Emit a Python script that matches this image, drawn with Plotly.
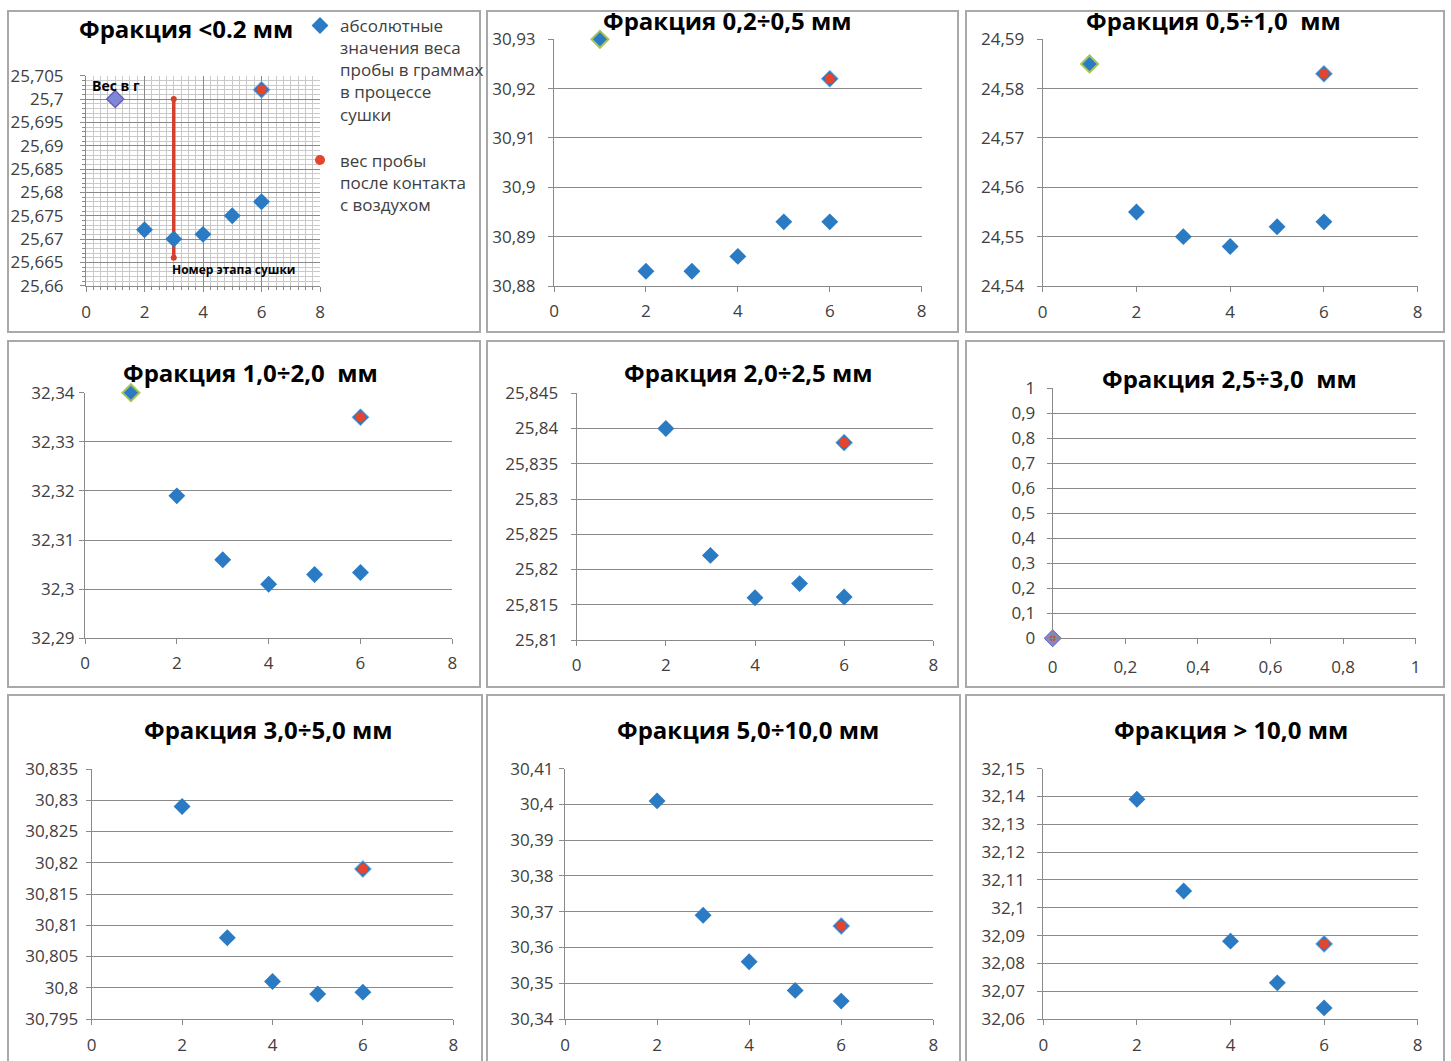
import plotly.graph_objects as go

W, H = 1451, 1061

# ---------------- data ----------------
titles = ["Фракция <0.2 мм", "Фракция 0,2÷0,5 мм", "Фракция 0,5÷1,0  мм",
          "Фракция 1,0÷2,0  мм", "Фракция 2,0÷2,5 мм", "Фракция 2,5÷3,0  мм",
          "Фракция 3,0÷5,0 мм", "Фракция 5,0÷10,0 мм", "Фракция > 10,0 мм"]

stage_first = [1]
stages_drying = [2, 3, 4, 5, 6]
stage_air = [6]

# initial weight (stage 1), drying stages 2..6, weight after contact with air
p1_initial = [25.700]
p1_drying = [25.672, 25.670, 25.671, 25.675, 25.678]
p1_air = [25.702]
p1_line_x = [3, 3]
p1_line_y = [25.700, 25.666]

p2_initial = [30.930]
p2_drying = [30.883, 30.883, 30.886, 30.893, 30.893]
p2_air = [30.922]

p3_initial = [24.585]
p3_drying = [24.555, 24.550, 24.548, 24.552, 24.553]
p3_air = [24.583]

p4_initial = [32.340]
p4_drying = [32.319, 32.306, 32.301, 32.303, 32.3034]
p4_air = [32.335]

p5_drying = [25.840, 25.822, 25.816, 25.818, 25.8161]
p5_air = [25.838]

p6_x = [0]
p6_y = [0]
p6_air = [0]

p7_drying = [30.829, 30.808, 30.801, 30.799, 30.7993]
p7_air = [30.819]

p8_drying = [30.401, 30.369, 30.356, 30.348, 30.345]
p8_air = [30.366]

p9_drying = [32.139, 32.106, 32.088, 32.073, 32.064]
p9_air = [32.087]

# axis tick values
y_ticks = [
    [25.66, 25.665, 25.67, 25.675, 25.68, 25.685, 25.69, 25.695, 25.7, 25.705],
    [30.88, 30.89, 30.9, 30.91, 30.92, 30.93],
    [24.54, 24.55, 24.56, 24.57, 24.58, 24.59],
    [32.29, 32.3, 32.31, 32.32, 32.33, 32.34],
    [25.81, 25.815, 25.82, 25.825, 25.83, 25.835, 25.84, 25.845],
    [0, 0.1, 0.2, 0.3, 0.4, 0.5, 0.6, 0.7, 0.8, 0.9, 1],
    [30.795, 30.8, 30.805, 30.81, 30.815, 30.82, 30.825, 30.83, 30.835],
    [30.34, 30.35, 30.36, 30.37, 30.38, 30.39, 30.4, 30.41],
    [32.06, 32.07, 32.08, 32.09, 32.1, 32.11, 32.12, 32.13, 32.14, 32.15],
]
x_ticks_stage = [0, 2, 4, 6, 8]
x_ticks_unit = [0, 0.2, 0.4, 0.6, 0.8, 1]

legend_dry = "абсолютные<br>значения веса<br>пробы в граммах<br>в процессе<br>сушки"
legend_air = "вес пробы<br>после контакта<br>с воздухом"
label_weight = "Вес в г"
label_stage = "Номер этапа сушки"

# ---------------- styling / geometry ----------------
BLUE = "#2b7bc4"
RED = "#e5452c"
GREEN_EDGE = "#a6c35a"
PURPLE = "#8087d6"
PURPLE_EDGE = "#6a5fb8"
GRID = "#8a8a8a"
AXIS = "#8a8a8a"
TXT = "#404040"
FONT = "Open Sans"

# plot area pixel geometry: x_left, x_right, y_top, y_bottom
geom = [
    (86, 320, 75.7, 285.7),
    (554, 921.7, 39.3, 286),
    (1042.7, 1417.7, 39.3, 286),
    (85, 452.3, 392.7, 638.3),
    (576.7, 933.3, 393.3, 640),
    (1052.7, 1415.7, 388.3, 638.3),
    (91.7, 453.3, 769, 1019),
    (565, 933.3, 768.7, 1019),
    (1043.3, 1417.7, 768.7, 1019),
]
y_gap = [21, 17, 17, 9, 17, 16, 12, 10, 17]
x_standoff = [6, 5, 6, 4, 5, 8, 6, 6, 6]
title_pos = [(186, 28), (727, 20), (1213, 20), (250, 372), (748, 372),
             (1229, 378), (268, 729), (748, 729), (1231, 729)]
borders = [
    (8, 480, 11, 332), (487, 958, 11, 332), (966, 1444, 11, 332),
    (8, 480, 341, 687), (487, 958, 341, 687), (966, 1444, 341, 687),
    (8, 482, 695, 1070), (487, 960, 695, 1070), (966, 1444, 695, 1070),
]


def fmt(v):
    return f"{v:g}".replace(".", ",")


fig = go.Figure()
layout = dict()

for i in range(9):
    sfx = "" if i == 0 else str(i + 1)
    xl, xr, yt, yb = geom[i]
    yt_vals = y_ticks[i]
    xt_vals = x_ticks_unit if i == 5 else x_ticks_stage
    xaxis = dict(
        domain=[xl / W, xr / W],
        range=[xt_vals[0], xt_vals[-1]],
        tickvals=xt_vals, ticktext=[fmt(v) for v in xt_vals],
        showline=True, linecolor=AXIS, linewidth=1,
        ticks="outside", ticklen=5, tickcolor=AXIS,
        showgrid=(i == 0), gridcolor=GRID, gridwidth=1,
        zeroline=False, fixedrange=True, automargin=False,
        tickfont=dict(family=FONT, size=17, color=TXT),
        ticklabelstandoff=x_standoff[i],
        anchor="y" + sfx,
    )
    yaxis = dict(
        domain=[1 - yb / H, 1 - yt / H],
        range=[yt_vals[0], yt_vals[-1]],
        tickvals=yt_vals, ticktext=[fmt(v) for v in yt_vals],
        showline=True, linecolor=AXIS, linewidth=1,
        ticks="outside", ticklen=5, tickcolor=AXIS,
        showgrid=True, gridcolor=GRID, gridwidth=1,
        zeroline=False, fixedrange=True, automargin=False,
        tickfont=dict(family=FONT, size=17, color=TXT),
        ticklabelstandoff=max(0, y_gap[i] - 8),
        anchor="x" + sfx,
    )
    if i == 0:
        xaxis["minor"] = dict(dtick=0.25, tick0=0, showgrid=True, gridcolor="#c9c9c9",
                              ticks="outside", ticklen=3, tickcolor=AXIS)
        yaxis["minor"] = dict(dtick=0.001, tick0=25.66, showgrid=True, gridcolor="#c9c9c9",
                              ticks="outside", ticklen=3, tickcolor=AXIS)
    layout["xaxis" + sfx] = xaxis
    layout["yaxis" + sfx] = yaxis

panels = [
    (p1_initial, p1_drying, p1_air),
    (p2_initial, p2_drying, p2_air),
    (p3_initial, p3_drying, p3_air),
    (p4_initial, p4_drying, p4_air),
    (None, p5_drying, p5_air),
    None,
    (None, p7_drying, p7_air),
    (None, p8_drying, p8_air),
    (None, p9_drying, p9_air),
]

DIAMOND = 13

for i, pdata in enumerate(panels):
    sfx = "" if i == 0 else str(i + 1)
    xa, ya = "x" + sfx, "y" + sfx
    if i == 0:
        # red vertical marker line
        fig.add_trace(go.Scatter(x=p1_line_x, y=p1_line_y, mode="lines+markers",
                                 line=dict(color="#d4402b", width=3.5),
                                 marker=dict(symbol="circle", size=6, color="#d4402b"),
                                 showlegend=False, xaxis=xa, yaxis=ya, hoverinfo="skip",
                                 cliponaxis=False))
    if pdata is None:
        # panel 6: single point at origin
        fig.add_trace(go.Scatter(x=p6_x, y=p6_y, mode="markers",
                                 marker=dict(symbol="diamond", size=DIAMOND, color=PURPLE,
                                             line=dict(color=PURPLE_EDGE, width=1)),
                                 showlegend=False, xaxis=xa, yaxis=ya, cliponaxis=False))
        fig.add_trace(go.Scatter(x=p6_x, y=p6_air, mode="markers",
                                 marker=dict(symbol="circle", size=6, color=RED),
                                 showlegend=False, xaxis=xa, yaxis=ya, cliponaxis=False))
        continue
    init, dry, air = pdata
    # blue diamond behind air point
    fig.add_trace(go.Scatter(x=stage_air, y=air, mode="markers",
                             marker=dict(symbol="diamond", size=DIAMOND, color=BLUE,
                                         line=dict(color="#7fb0e0", width=1)),
                             showlegend=False, xaxis=xa, yaxis=ya, cliponaxis=False))
    fig.add_trace(go.Scatter(x=stages_drying, y=dry, mode="markers", name=legend_dry,
                             legendgroup="dry",
                             marker=dict(symbol="diamond", size=DIAMOND, color=BLUE,
                                         line=dict(width=0)),
                             showlegend=(i == 0), xaxis=xa, yaxis=ya, cliponaxis=False))
    if init is not None:
        if i == 0:
            mk = dict(symbol="diamond", size=DIAMOND, color=PURPLE,
                      line=dict(color=PURPLE_EDGE, width=1.5))
        else:
            mk = dict(symbol="diamond", size=DIAMOND, color=BLUE,
                      line=dict(color=GREEN_EDGE, width=2))
        fig.add_trace(go.Scatter(x=stage_first, y=init, mode="markers", marker=mk,
                                 showlegend=False, xaxis=xa, yaxis=ya, cliponaxis=False))
    fig.add_trace(go.Scatter(x=stage_air, y=air, mode="markers", name=legend_air,
                             legendgroup="air",
                             marker=dict(symbol="circle", size=10, color=RED),
                             showlegend=(i == 0), xaxis=xa, yaxis=ya, cliponaxis=False))

annotations = []
for i, t in enumerate(titles):
    cx, cy = title_pos[i]
    annotations.append(dict(text="<b>" + t + "</b>", x=cx / W, y=1 - cy / H,
                            xref="paper", yref="paper", xanchor="center", yanchor="middle",
                            showarrow=False, font=dict(family=FONT, size=24, color="#000000")))
annotations.append(dict(text="<b>" + label_weight + "</b>", x=90 / W, y=1 - 85 / H,
                        xref="paper", yref="paper", xanchor="left", yanchor="middle",
                        showarrow=False, font=dict(family=FONT, size=14, color="#000000")))
annotations.append(dict(text="<b>" + label_stage + "</b>", x=170 / W, y=1 - 269 / H,
                        xref="paper", yref="paper", xanchor="left", yanchor="middle",
                        showarrow=False, font=dict(family=FONT, size=12, color="#000000")))

shapes = []
for (x0, x1, y0, y1) in borders:
    shapes.append(dict(type="rect", xref="paper", yref="paper",
                       x0=x0 / W, x1=x1 / W, y0=1 - y1 / H, y1=1 - y0 / H,
                       line=dict(color="#a9a9a9", width=2), fillcolor="rgba(0,0,0,0)",
                       layer="below"))

fig.update_layout(
    width=W, height=H,
    margin=dict(l=0, r=0, t=0, b=0, pad=0, autoexpand=False),
    paper_bgcolor="white", plot_bgcolor="white",
    separators=", ",
    annotations=annotations, shapes=shapes,
    legend=dict(x=300 / W, y=1 - 8 / H, xanchor="left", yanchor="top",
                bgcolor="rgba(0,0,0,0)", borderwidth=0, valign="top",
                traceorder="grouped", tracegroupgap=21, itemwidth=30,
                font=dict(family=FONT, size=17, color=TXT)),
    **layout,
)

fig.write_html("out.html", config={"displayModeBar": False},
               post_script="document.body.style.margin='0px';")
